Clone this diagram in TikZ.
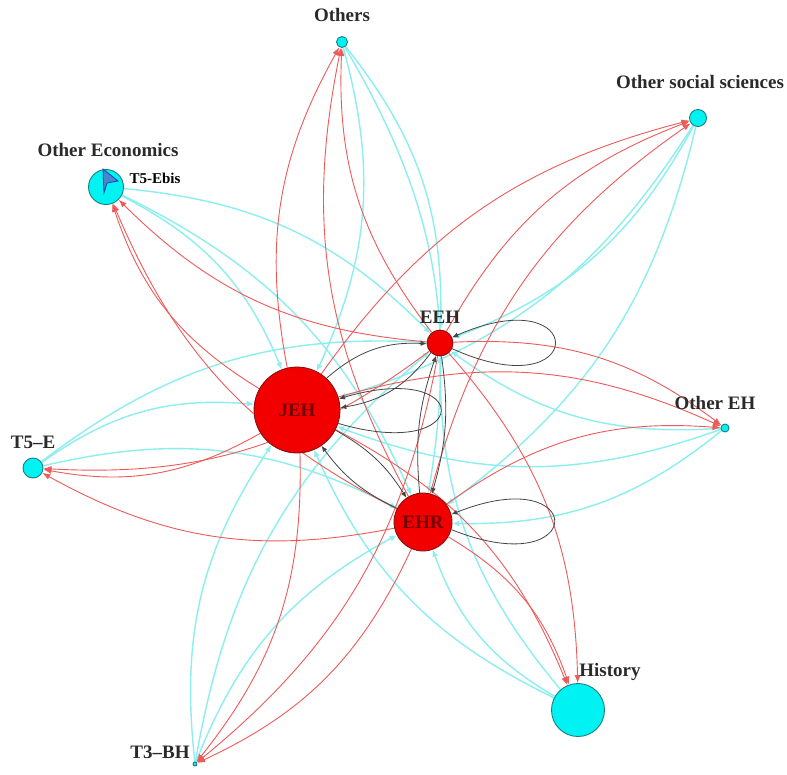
\documentclass[tikz,border=0pt]{standalone}
\usepackage{fontspec}
\setmainfont{Liberation Serif}
\usetikzlibrary{arrows.meta}
\pgfdeclarelayer{bg}
\pgfdeclarelayer{edges}
\pgfsetlayers{bg,edges,main}
\definecolor{nodecyan}{HTML}{00F2F2}
\definecolor{cyanborder}{HTML}{1A8080}
\definecolor{nodered}{HTML}{F20000}
\definecolor{redborder}{HTML}{801010}
\definecolor{edgered}{HTML}{EE5A5A}
\definecolor{edgecyan}{HTML}{8CEEEE}
\definecolor{edgeblack}{HTML}{454545}
\definecolor{labelgray}{HTML}{2A2A2A}
\definecolor{ebisblue}{HTML}{4A86D0}
\begin{document}
\begin{tikzpicture}[x=1pt,y=-1pt,
 cnode/.style={circle,draw=cyanborder,fill=nodecyan,line width=0.9pt,inner sep=0pt,minimum size=#1},
 rnode/.style={circle,draw=redborder,fill=nodered,line width=0.8pt,inner sep=0pt,minimum size=#1,
   font=\fontsize{19}{21}\selectfont\bfseries,text=red!45!black},
 lab/.style={font=\fontsize{19}{21}\selectfont\bfseries,text=labelgray,inner sep=0pt},
 redge/.style={draw=edgered,line width=0.9pt,-{Latex[length=8pt,width=6pt]},bend left=20},
 cedge/.style={draw=edgecyan,line width=1.4pt,-{Latex[length=7pt,width=6pt]},bend left=20},
 bedge/.style={draw=edgeblack,line width=0.8pt,-{Latex[length=6pt,width=5pt]}},
]
\useasboundingbox (0,0) rectangle (787,774);
\begin{pgfonlayer}{bg}
\fill[white] (0,0) rectangle (787,774);
\end{pgfonlayer}

% nodes
\node[cnode=11pt] (oth) at (342,42) {};
\node[cnode=17pt] (oss) at (698,118) {};
\node[cnode=35pt] (oec) at (106,187) {};
\node[rnode=26pt] (eeh) at (440,343) {};
\node[rnode=86pt] (jeh) at (297,410) {JEH};
\node[cnode=8pt] (oeh) at (725,428) {};
\node[cnode=20pt] (t5e) at (33,468) {};
\node[rnode=58pt] (ehr) at (423,522) {EHR};
\node[cnode=53pt] (his) at (578,710) {};
\node[cnode=4pt] (t3b) at (195,764) {};

% T5-Ebis marker
\filldraw[fill=ebisblue,draw=cyanborder!60!blue,line width=0.8pt]
  (103,169) -- (118,181) -- (107,183) -- (104,193) -- cycle;

% labels
\node[lab] (lothers) at (342,15) {Others};
\node[lab] (loss) at (700,82) {Other social sciences};
\node[lab] (loec) at (108,150) {Other Economics};
\node[lab,font=\fontsize{15}{17}\selectfont\bfseries,text=black] (lebis) at (155,178) {T5-Ebis};
\node[lab] (leeh) at (440,317) {EEH};
\node[lab] (loeh) at (715,403) {Other EH};
\node[lab] (lt5e) at (33,442) {T5–E};
\node[lab] (lhis) at (610,672) {History};
\node[lab] (lt3b) at (160,752) {T3–BH};

\begin{pgfonlayer}{edges}
\foreach \c in {oth,oss,oec,oeh,t5e,his,t3b}{
  \foreach \r in {jeh,eeh,ehr}{
    \draw[cedge] (\c) to (\r);
  }
}
\foreach \c in {oth,oss,oec,oeh,t5e,his,t3b}{
  \foreach \r in {jeh,eeh,ehr}{
    \draw[redge] (\r) to (\c);
  }
}
% edges among red nodes
\draw[bedge] (eeh) to[bend left=22] (jeh);
\draw[bedge] (jeh) to[bend left=22] (eeh);
\draw[bedge] (eeh) to[bend left=12] (ehr);
\draw[bedge] (ehr) to[bend left=12] (eeh);
\draw[bedge] (jeh) to[bend left=14] (ehr);
\draw[bedge] (ehr) to[bend left=14] (jeh);
% self loops
\draw[bedge] (eeh.-25) .. controls +(137,62) and +(137,-60) .. (eeh.25);
\draw[bedge] (ehr.-15) .. controls +(137,55) and +(137,-55) .. (ehr.15);
\draw[bedge] (jeh.-18) .. controls +(136,40) and +(136,-40) .. (jeh.15);
\end{pgfonlayer}
\end{tikzpicture}
\end{document}
